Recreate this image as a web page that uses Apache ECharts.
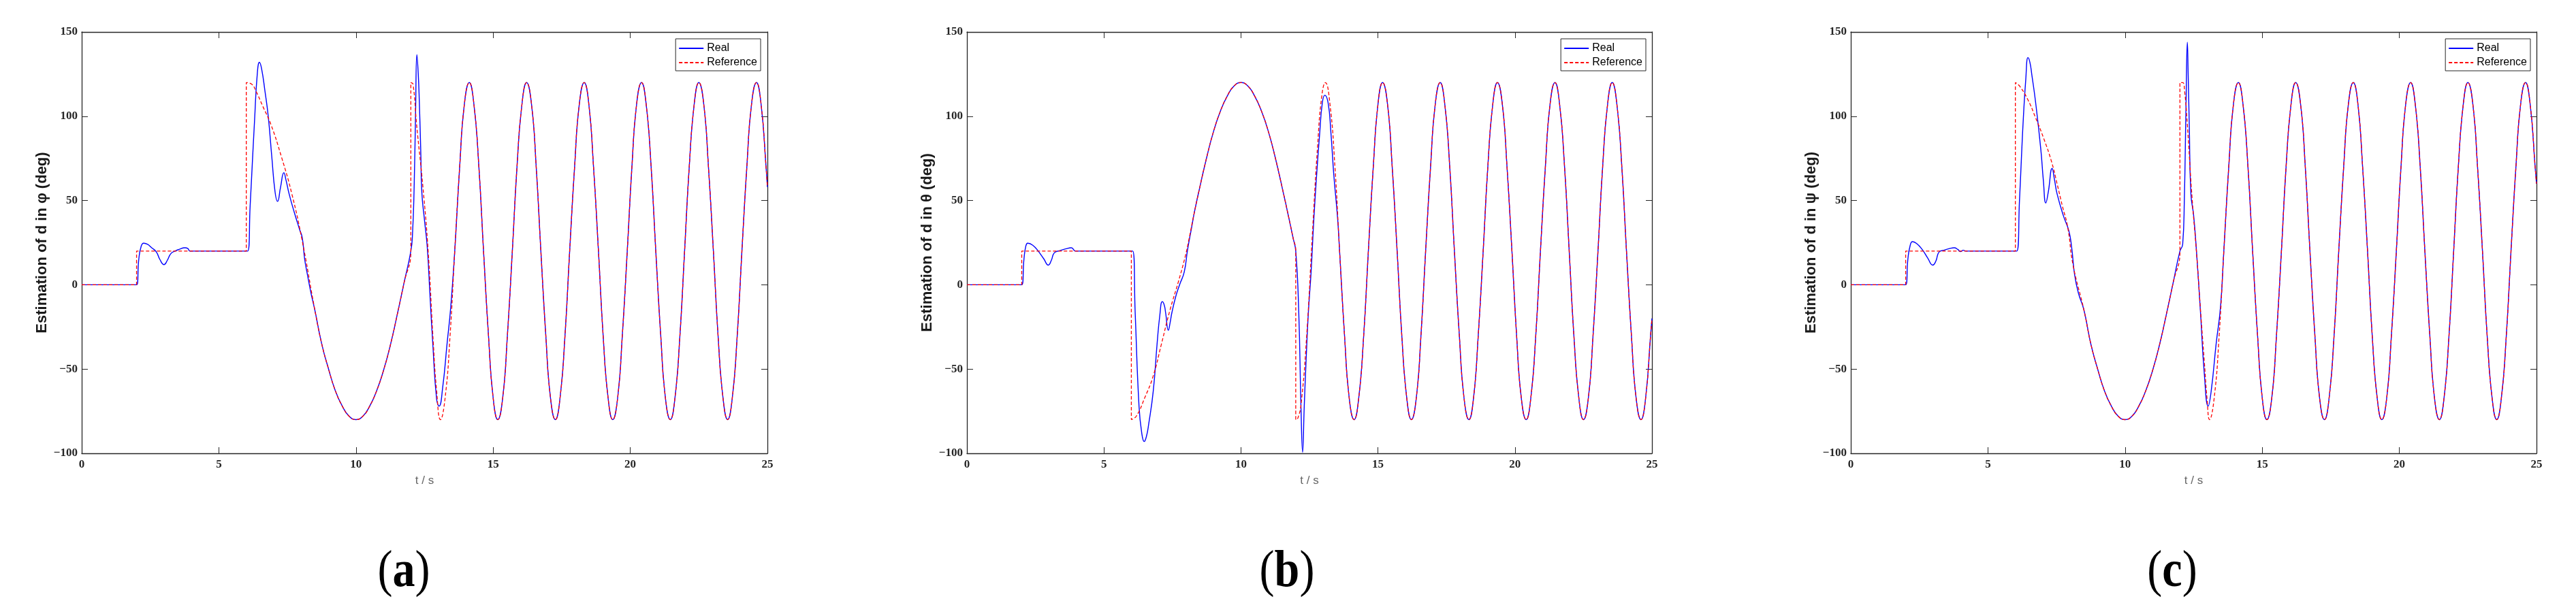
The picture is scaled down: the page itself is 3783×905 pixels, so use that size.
<!DOCTYPE html>
<html>
<head>
<meta charset="utf-8">
<script src="https://cdn.jsdelivr.net/npm/echarts@6/dist/echarts.min.js"></script>
<style>html,body{margin:0;padding:0;background:#fff}#c{width:3783px;height:905px}</style>
</head>
<body>
<div id="c"></div>
<script>
// ---------- text ----------
const seriesNames = ['Real', 'Reference'];
const panelLetters = ['a', 'b', 'c'];
const yNames = ['Estimation of d in \u03c6 (deg)', 'Estimation of d in \u03b8 (deg)', 'Estimation of d in \u03c8 (deg)'];
const xName = 't / s';
const xRange = [0, 25, 5];
const yRange = [-100, 150, 50];

// ---------- panel (a): phi ----------
const phiRealT = [0, 2.0, 2.08, 2.17, 2.26, 2.4, 2.55, 2.72, 2.85, 3.0, 3.12, 3.25, 3.4, 3.55, 3.76, 3.87, 3.95, 6.05, 6.14, 6.22, 6.3, 6.4, 6.48, 6.56, 6.68, 6.8, 6.93, 7.05, 7.14, 7.25, 7.37, 7.45, 7.56, 7.75, 7.94, 8.04, 8.13, 8.23, 8.36, 8.5, 8.75, 9.0, 9.25, 9.5, 9.75, 10.0, 10.25, 10.5, 10.75, 11.0, 11.25, 11.5, 11.75, 12.0, 12.06, 12.12, 12.17, 12.22, 12.27, 12.31, 12.36, 12.4, 12.5, 12.6, 12.7, 12.8, 12.94, 13.03, 13.16, 13.32, 13.45];
const phiRealV = [0, 0, 15, 23, 24.7, 24, 22, 19.5, 15, 12, 14.5, 18.5, 20, 21, 22, 21.5, 20, 20, 46.6, 72, 97, 125, 132, 128, 115, 100, 76, 55, 49.5, 58, 66.5, 62, 54, 43, 33, 28, 15, 6, -5, -15, -35, -50, -63, -72, -78, -80, -78, -72, -63, -51, -36, -18, 1, 20, 30, 58, 100, 136.6, 125, 108, 80, 55, 38, 22, -7, -35, -68, -72, -61, -35, -14];
const phiRefT = [0, 2.0, 2.0, 6.0, 6.0, 6.2, 6.35, 6.6, 6.9, 7.28, 7.66, 8.04, 8.5, 8.75, 9.0, 9.25, 9.5, 9.75, 10.0, 10.25, 10.5, 10.75, 11.0, 11.25, 11.5, 11.75, 12.0, 12.0, 12.08, 12.21, 12.44, 12.63, 12.82, 12.94];
const phiRefV = [0, 0, 20, 20, 120, 119, 115, 106, 95, 76, 54, 26, -15, -35, -50, -63, -72, -78, -80, -78, -72, -63, -51, -36, -18, 1, 20, 120, 119, 95, 58, 20, -35, -63];

// ---------- panel (b): theta ----------
const thetaRealT = [0, 2.0, 2.08, 2.15, 2.22, 2.4, 2.6, 2.8, 2.97, 3.08, 3.19, 3.4, 3.6, 3.81, 3.97, 6.05, 6.14, 6.28, 6.38, 6.47, 6.55, 6.63, 6.8, 6.94, 7.04, 7.13, 7.2, 7.25, 7.35, 7.42, 7.48, 7.62, 7.76, 7.93, 8.05, 8.2, 8.3, 8.5, 8.75, 9.0, 9.25, 9.5, 9.75, 10.0, 10.25, 10.5, 10.75, 11.0, 11.25, 11.5, 11.75, 11.9, 12.0, 12.11, 12.19, 12.25, 12.31, 12.38, 12.46, 12.56, 12.66, 12.77, 12.87, 12.97, 13.06, 13.18, 13.28, 13.39, 13.53];
const thetaRealV = [0, 0, 15, 23, 24.7, 23.5, 20, 15.5, 11.7, 14.5, 19, 20.3, 21.3, 22, 20, 20, -16.5, -72, -88, -93, -90, -83, -63, -35, -18, -10, -12, -16.5, -27, -22, -16.5, -7, 0, 7.6, 20.6, 34, 43, 58, 75.6, 91, 103, 112, 118, 120, 118, 112, 103, 91, 75.6, 58, 39.5, 28, 20, -16.5, -72, -99.4, -72, -44, -16.5, 7.6, 39, 67, 89, 108, 112.5, 108, 91, 65, 39];
const thetaRefT = [0, 2.0, 2.0, 6.0, 6.0, 6.18, 6.49, 6.8, 7.1, 7.41, 7.72, 7.97, 8.09, 8.3, 8.5, 8.75, 9.0, 9.25, 9.5, 9.75, 10.0, 10.25, 10.5, 10.75, 11.0, 11.25, 11.5, 11.75, 11.9, 12.0, 12.0, 12.08, 12.2, 12.4, 12.6, 12.8, 12.95];
const thetaRefV = [0, 0, 20, 20, -80, -78, -67, -54, -35, -15, 2, 17, 26, 43, 58, 75.6, 91, 103, 112, 118, 120, 118, 112, 103, 91, 75.6, 58, 39.5, 28, 20, -80, -79, -70, -30, 28, 83, 112];

// ---------- panel (c): psi ----------
const psiRealT = [0, 2.0, 2.08, 2.16, 2.25, 2.4, 2.6, 2.8, 2.99, 3.1, 3.22, 3.4, 3.6, 3.77, 3.9, 4.0, 4.1, 4.2, 6.05, 6.15, 6.22, 6.29, 6.38, 6.46, 6.53, 6.6, 6.74, 6.93, 7.02, 7.11, 7.2, 7.34, 7.43, 7.52, 7.75, 7.95, 8.05, 8.16, 8.3, 8.5, 8.75, 9.0, 9.25, 9.5, 9.75, 10.0, 10.25, 10.5, 10.75, 11.0, 11.25, 11.5, 11.75, 12.0, 12.1, 12.16, 12.22, 12.27, 12.3, 12.34, 12.4, 12.5, 12.6, 12.75, 12.89, 13.03, 13.14, 13.32, 13.48];
const psiRealV = [0, 0, 15, 23, 25.6, 24.5, 21, 16, 11.7, 14, 19.5, 20.5, 21.5, 22, 21, 19.7, 20.5, 20, 20, 50, 75, 98.6, 122, 134.8, 132, 124.6, 108, 80, 62, 48.5, 55, 69, 62, 54, 41, 32, 22.5, 6, -5, -15, -35, -50, -63, -72, -78, -80, -78, -72, -63, -51, -36, -18, 1, 20, 24, 50, 105, 144, 125, 95, 54, 41, 20.6, -16.5, -53, -72, -63, -35, -13];
const psiRefT = [0, 2.0, 2.0, 6.0, 6.0, 6.15, 6.45, 6.74, 7.03, 7.32, 7.52, 7.71, 7.91, 8.1, 8.5, 8.75, 9.0, 9.25, 9.5, 9.75, 10.0, 10.25, 10.5, 10.75, 11.0, 11.25, 11.5, 11.75, 12.0, 12.0, 12.1, 12.17, 12.27, 12.44, 12.6, 12.75, 12.89, 12.99];
const psiRefV = [0, 0, 20, 20, 120, 118, 110, 99, 87, 73, 60, 47, 34, 12, -15, -35, -50, -63, -72, -78, -80, -78, -72, -63, -51, -36, -18, 1, 20, 120, 120, 115, 95, 52, 20, -15, -46, -68];

// ---------- shared oscillation tail (t >= 13.08), where Real and Reference coincide ----------
const tailT = [13.08, 13.25, 13.43, 13.60, 13.78, 13.95, 14.13, 14.30, 14.48, 14.65, 14.83, 15.00, 15.17, 15.35, 15.52, 15.70, 15.87, 16.05, 16.22, 16.40, 16.57, 16.74, 16.92, 17.09, 17.27, 17.44, 17.62, 17.79, 17.97, 18.14, 18.32, 18.49, 18.66, 18.84, 19.01, 19.19, 19.36, 19.54, 19.71, 19.89, 20.06, 20.23, 20.41, 20.58, 20.76, 20.93, 21.11, 21.28, 21.46, 21.63, 21.81, 21.98, 22.15, 22.33, 22.50, 22.68, 22.85, 23.03, 23.20, 23.38, 23.55, 23.72, 23.90, 24.07, 24.25, 24.42, 24.60, 24.77, 24.95, 25.00];
const phiTailV = [-80, -67, -30, 20, 70, 107, 120, 107, 70, 20, -30, -67, -80, -67, -30, 20, 70, 107, 120, 107, 70, 20, -30, -67, -80, -67, -30, 20, 70, 107, 120, 107, 70, 20, -30, -67, -80, -67, -30, 20, 70, 107, 120, 107, 70, 20, -30, -67, -80, -67, -30, 20, 70, 107, 120, 107, 70, 20, -30, -67, -80, -67, -30, 20, 70, 107, 120, 107, 70, 58];
const thetaTailV = [120, 107, 70, 20, -30, -67, -80, -67, -30, 20, 70, 107, 120, 107, 70, 20, -30, -67, -80, -67, -30, 20, 70, 107, 120, 107, 70, 20, -30, -67, -80, -67, -30, 20, 70, 107, 120, 107, 70, 20, -30, -67, -80, -67, -30, 20, 70, 107, 120, 107, 70, 20, -30, -67, -80, -67, -30, 20, 70, 107, 120, 107, 70, 20, -30, -67, -80, -67, -30, -20];
const psiTailV = [-80, -67, -30, 20, 70, 107, 120, 107, 70, 20, -30, -67, -80, -67, -30, 20, 70, 107, 120, 107, 70, 20, -30, -67, -80, -67, -30, 20, 70, 107, 120, 107, 70, 20, -30, -67, -80, -67, -30, 20, 70, 107, 120, 107, 70, 20, -30, -67, -80, -67, -30, 20, 70, 107, 120, 107, 70, 20, -30, -67, -80, -67, -30, 20, 70, 107, 120, 107, 70, 60];

// ---------- build ----------
function build(headT, headV, tailV) {
  const out = headT.map((t, i) => [t, headV[i]]);
  const last = headT[headT.length - 1];
  tailT.forEach((t, i) => { if (t > last) out.push([t, tailV[i]]); });
  return out;
}
const panels = [
  { real: build(phiRealT, phiRealV, phiTailV), ref: build(phiRefT, phiRefV, phiTailV) },
  { real: build(thetaRealT, thetaRealV, thetaTailV), ref: build(thetaRefT, thetaRefV, thetaTailV) },
  { real: build(psiRealT, psiRealV, psiTailV), ref: build(psiRefT, psiRefV, psiTailV) }
];

// ---------- layout ----------
const gridLeft = [120, 1420, 2718];
const gridWidth = [1007, 1006, 1007];
const gridTop = 47, gridHeight = 619;
const legendRight = [2666, 1366, 67];
const letterX = [593, 1890, 3190];

const AX = '#262626';
const tickFont = { fontFamily: 'Liberation Serif', fontWeight: 'bold', fontSize: 17, color: AX };
const minus = v => (v < 0 ? '\u2212' + Math.abs(v) : String(v));

const grid = [], xAxis = [], yAxis = [], series = [], legend = [], graphic = [];
for (let i = 0; i < 3; i++) {
  grid.push({ left: gridLeft[i], top: gridTop, width: gridWidth[i], height: gridHeight, containLabel: false });
  const common = { gridIndex: i, type: 'value', splitLine: { show: false },
    axisLine: { show: true, onZero: false, lineStyle: { color: AX, width: 1.3 } },
    axisTick: { show: true, inside: true, length: 9, lineStyle: { color: AX, width: 1 } } };
  xAxis.push(Object.assign({}, common, { position: 'bottom', min: xRange[0], max: xRange[1], interval: xRange[2],
    axisLabel: Object.assign({ margin: 8 }, tickFont),
    name: xName, nameLocation: 'middle', nameGap: 32,
    nameTextStyle: { fontFamily: 'Liberation Sans', fontSize: 17, color: '#666' } }));
  xAxis.push(Object.assign({}, common, { position: 'top', min: xRange[0], max: xRange[1], interval: xRange[2],
    axisLabel: { show: false } }));
  yAxis.push(Object.assign({}, common, { position: 'left', min: yRange[0], max: yRange[1], interval: yRange[2],
    axisLabel: Object.assign({ margin: 6, formatter: minus }, tickFont),
    name: yNames[i], nameLocation: 'middle', nameGap: 47,
    nameTextStyle: { fontFamily: 'Liberation Sans', fontWeight: 'bold', fontSize: 22, color: '#1a1a1a' } }));
  yAxis.push(Object.assign({}, common, { position: 'right', min: yRange[0], max: yRange[1], interval: yRange[2],
    axisLabel: { show: false } }));

  series.push({ name: seriesNames[0], type: 'line', xAxisIndex: 2 * i, yAxisIndex: 2 * i, data: panels[i].real,
    showSymbol: false, symbol: 'none', smooth: 0.5, lineStyle: { color: '#0000ff', width: 1.4 }, itemStyle: { color: '#0000ff' }, z: 2 });
  series.push({ name: seriesNames[1], type: 'line', xAxisIndex: 2 * i, yAxisIndex: 2 * i, data: panels[i].ref,
    showSymbol: false, symbol: 'none', smooth: 0.5, lineStyle: { color: '#ff0000', width: 1.3, type: [5, 3] }, itemStyle: { color: '#ff0000' }, z: 3 });

  legend.push({ right: legendRight[i], top: 57, orient: 'vertical', data: seriesNames,
    itemWidth: 36, itemHeight: 16, itemGap: 5, padding: [6, 5, 4, 4],
    itemStyle: { opacity: 0 },
    borderColor: AX, borderWidth: 1, backgroundColor: '#fff', selectedMode: false,
    textStyle: { fontFamily: 'Liberation Sans', fontSize: 16, color: '#000', lineHeight: 16 } });

  graphic.push({ type: 'text', x: letterX[i], y: 841, scaleX: 0.87,
    style: { text: '{p|(}{b|' + panelLetters[i] + '}{p|)}', align: 'center', verticalAlign: 'middle',
      rich: { p: { fontFamily: 'Liberation Serif', fontSize: 76, fill: '#000' },
              b: { fontFamily: 'Liberation Serif', fontWeight: 'bold', fontSize: 76, fill: '#000' } } } });
}

const chart = echarts.init(document.getElementById('c'), null, { renderer: 'canvas' });
chart.setOption({ animation: false, backgroundColor: '#fff', grid, xAxis, yAxis, series, legend, graphic });
</script>
</body>
</html>
